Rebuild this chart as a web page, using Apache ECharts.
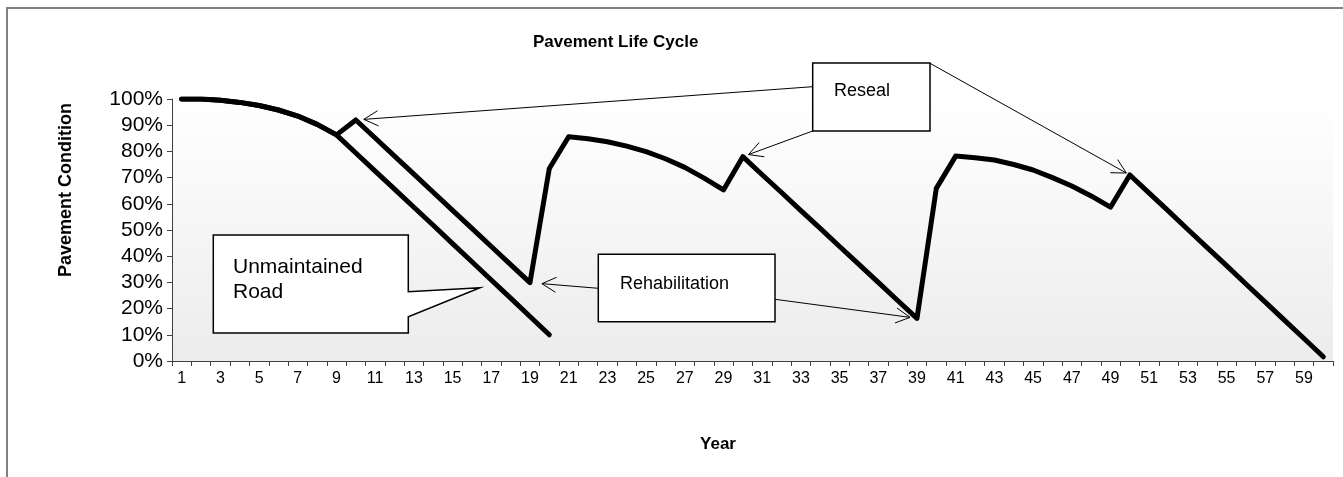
<!DOCTYPE html>
<html>
<head>
<meta charset="utf-8">
<script src="https://cdn.jsdelivr.net/npm/echarts@6/dist/echarts.min.js"></script>
<style>html,body{margin:0;padding:0;background:#fff;}#chart{width:1343px;height:477px;}</style>
</head>
<body>
<div id="chart"></div>
<script>
// ---- data ----
const years = ['1','2','3','4','5','6','7','8','9','10','11','12','13','14','15','16','17','18','19','20',
  '21','22','23','24','25','26','27','28','29','30','31','32','33','34','35','36','37','38','39','40',
  '41','42','43','44','45','46','47','48','49','50','51','52','53','54','55','56','57','58','59','60'];
const maintainedRoad = [100,100,99.5,98.7,97.5,95.8,93.5,90.3,86.3,92,
  85.1,78.2,71.3,64.4,57.5,50.6,43.7,36.8,29.9,73.5,
  85.6,84.8,83.7,82,79.9,77.2,73.9,69.8,65.3,78,
  71.1,64.3,57.4,50.6,43.7,36.9,30,23.1,16.3,65.9,
  78.2,77.6,76.7,75,72.9,70,66.8,63,58.7,71,
  64.1,57.2,50.2,43.3,36.4,29.4,22.5,15.5,8.6,1.6];
const unmaintainedRoad = [100,100,99.5,98.7,97.5,95.8,93.5,90.3,86.3,79.4,
  72.5,65.6,58.7,51.8,44.8,37.9,30.9,24,17,10];
const yTickValues = [0,10,20,30,40,50,60,70,80,90,100];
const chartTitle = 'Pavement Life Cycle';
const yAxisTitle = 'Pavement Condition';
const xAxisTitle = 'Year';
const resealYears = ['10','30','50'];
const rehabYears = ['19','39'];
const resealLabel = 'Reseal';
const rehabLabel = 'Rehabilitation';
const unmaintainedLabel = ['Unmaintained', 'Road'];

const FONT = 'Liberation Sans, Arial, sans-serif';
const chart = echarts.init(document.getElementById('chart'), null, {renderer:'canvas'});

const option = {
  animation: false,
  backgroundColor: '#ffffff',
  title: {
    text: chartTitle,
    left: 528, top: 29,
    textStyle: {fontFamily: FONT, fontSize: 17, fontWeight: 'bold', color: '#000'}
  },
  grid: {
    left: 172, right: 10, top: 99, bottom: 116,
    show: true, borderWidth: 0,
    backgroundColor: new echarts.graphic.LinearGradient(0,0,0,1,[
      {offset:0,color:'#ffffff'},{offset:1,color:'#ececec'}])
  },
  xAxis: {
    type: 'category', data: years, boundaryGap: true,
    axisLine: {lineStyle: {color: '#404040', width: 1}},
    axisTick: {show: true, interval: 0, length: 5, lineStyle: {color: '#404040'}},
    axisLabel: {interval: 1, margin: 10, fontFamily: FONT, fontSize: 16, color: '#000'},
    splitLine: {show: false}
  },
  yAxis: {
    type: 'value', min: 0, max: 100, interval: 10,
    axisLine: {show: true, lineStyle: {color: '#404040', width: 1}},
    axisTick: {show: true, length: 5, lineStyle: {color: '#404040'}},
    axisLabel: {margin: 9, fontFamily: FONT, fontSize: 21, color: '#000',
      formatter: function (v) { return yTickValues.indexOf(v) >= 0 ? v + '%' : ''; }},
    splitLine: {show: false}
  },
  series: [
    {
      name: 'Unmaintained Road', type: 'line', data: unmaintainedRoad,
      showSymbol: false, symbol: 'none',
      lineStyle: {color: '#000', width: 5, cap: 'round', join: 'round'}, z: 3
    },
    {
      name: 'Maintained Road', type: 'line', data: maintainedRoad,
      showSymbol: false, symbol: 'none',
      lineStyle: {color: '#000', width: 5, cap: 'round', join: 'round'}, z: 4
    }
  ]
};
chart.setOption(option);

function pt(year) {
  const i = years.indexOf(year);
  return chart.convertToPixel({gridIndex: 0}, [i, maintainedRoad[i]]);
}
function arrow(sx, sy, p, gap) {
  const dx = p[0] - sx, dy = p[1] - sy, L = Math.hypot(dx, dy);
  const ux = dx / L, uy = dy / L;
  const tx = p[0] - ux * gap, ty = p[1] - uy * gap;
  const a = 28 * Math.PI / 180, hl = 16;
  const vx = -ux, vy = -uy;
  const w1 = [tx + hl * (vx * Math.cos(a) - vy * Math.sin(a)), ty + hl * (vx * Math.sin(a) + vy * Math.cos(a))];
  const w2 = [tx + hl * (vx * Math.cos(-a) - vy * Math.sin(-a)), ty + hl * (vx * Math.sin(-a) + vy * Math.cos(-a))];
  return [
    {type: 'line', z: 10, shape: {x1: sx, y1: sy, x2: tx, y2: ty}, style: {stroke: '#000', lineWidth: 1}},
    {type: 'polyline', z: 10, shape: {points: [w1, [tx, ty], w2]}, style: {stroke: '#000', lineWidth: 1, fill: null}}
  ];
}
function box(x, y, w, h) {
  return {type: 'rect', z: 11, shape: {x: x, y: y, width: w, height: h},
    style: {fill: '#fff', stroke: '#000', lineWidth: 1.5}};
}
function label(text, x, y, size) {
  return {type: 'text', z: 12, x: x, y: y,
    style: {text: text, fill: '#000', font: size + 'px ' + FONT, textAlign: 'left', textVerticalAlign: 'middle'}};
}

const g = [];
// chart border
g.push({type: 'rect', z: 0, shape: {x: 7, y: 8, width: 1343, height: 480},
  style: {fill: null, stroke: '#808080', lineWidth: 2}});
// axis titles
g.push({type: 'text', z: 12, x: 66, y: 190, rotation: Math.PI / 2,
  style: {text: yAxisTitle, fill: '#000', font: 'bold 18px ' + FONT, textAlign: 'center', textVerticalAlign: 'middle'}});
g.push({type: 'text', z: 12, x: 718, y: 444,
  style: {text: xAxisTitle, fill: '#000', font: 'bold 17px ' + FONT, textAlign: 'center', textVerticalAlign: 'middle'}});

// Reseal callout
const r10 = pt(resealYears[0]), r30 = pt(resealYears[1]), r50 = pt(resealYears[2]);
g.push(...arrow(812.7, 86.7, r10, 8));
g.push(...arrow(812.7, 131, r30, 6));
g.push(...arrow(930, 63.3, r50, 4));
g.push(box(812.7, 63, 117.3, 68));
g.push(label(resealLabel, 834, 91, 18));

// Rehabilitation callout
const h19 = pt(rehabYears[0]), h39 = pt(rehabYears[1]);
g.push(...arrow(598.3, 288.3, h19, 12));
g.push(...arrow(775, 299.3, h39, 7));
g.push(box(598.3, 254.3, 176.7, 67.4));
g.push(label(rehabLabel, 620, 284, 18));

// Unmaintained Road callout (speech-bubble shape)
g.push({type: 'polygon', z: 11, shape: {points: [[213.3,235],[408.3,235],[408.3,291.7],[480,287.7],[408.3,316.7],[408.3,333],[213.3,333]]},
  style: {fill: '#fff', stroke: '#000', lineWidth: 1.5}});
g.push(label(unmaintainedLabel[0], 233, 267, 21));
g.push(label(unmaintainedLabel[1], 233, 292, 21));

chart.setOption({graphic: {elements: g}});
</script>
</body>
</html>
